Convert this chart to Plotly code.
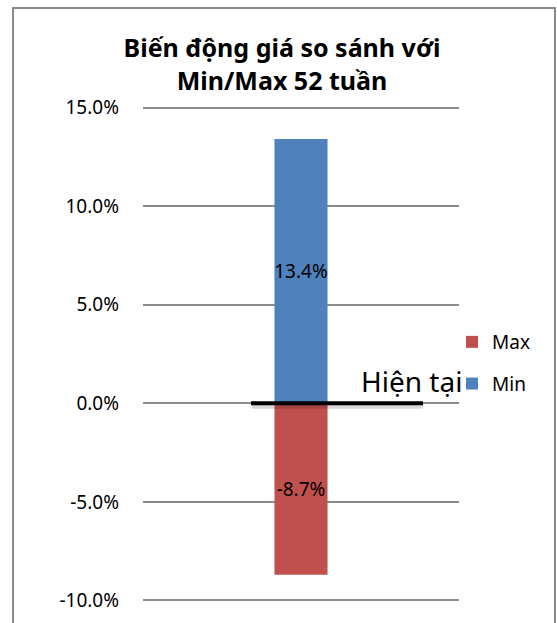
import plotly.graph_objects as go

categories = ["Hiện tại"]
series_names = ["Max", "Min"]
max_values = [-0.087]
min_values = [0.134]
tick_values = [-0.10, -0.05, 0.0, 0.05, 0.10, 0.15]
tick_labels = ["-10.0%", "-5.0%", "0.0%", "5.0%", "10.0%", "15.0%"]
title_text = "<b>Biến động giá so sánh với<br>Min/Max 52 tuần</b>"
marker_label = "Hiện tại"

FONT = "Noto Sans"
W, H = 557, 623
L, R, T, B = 143, 98, 106, 21
PW = W - L - R
PH = H - T - B

def px_to_py(py):
    return (PH - (py - T)) / PH

def px_to_px(px):
    return (px - L) / PW

fig = go.Figure()
fig.add_trace(go.Bar(
    x=categories, y=max_values, name=series_names[0],
    marker=dict(color="#C0504D", line=dict(width=0)),
    width=0.168, texttemplate="%{y:.1%}", textposition="inside",
    insidetextanchor="middle", textangle=0, constraintext="none",
    textfont=dict(family=FONT, size=19, color="#000000"),
    legendgroup="a", hoverinfo="skip",
))
fig.add_trace(go.Bar(
    x=categories, y=min_values, name=series_names[1],
    marker=dict(color="#4F81BD", line=dict(width=0)),
    width=0.168, texttemplate="%{y:.1%}", textposition="inside",
    insidetextanchor="middle", textangle=0, constraintext="none",
    textfont=dict(family=FONT, size=19, color="#000000"),
    legendgroup="b", hoverinfo="skip",
))

# "current" marker line at 0 with a soft shadow
fig.add_shape(type="line", xref="x", yref="y", x0=-0.155, x1=0.386, y0=-0.0012, y1=-0.0012,
              line=dict(color="rgba(0,0,0,0.15)", width=6), layer="above")
fig.add_shape(type="line", xref="x", yref="y", x0=-0.158, x1=0.386, y0=0, y1=0,
              line=dict(color="#000000", width=4), layer="above")
fig.add_annotation(x=0.183, y=0, xref="x", yref="y", text=marker_label,
                   showarrow=False, xanchor="left", yanchor="bottom", yshift=1,
                   font=dict(family=FONT, size=28, color="#000000"))

# outer chart border
fig.add_shape(type="rect", xref="paper", yref="paper",
              x0=px_to_px(13), x1=px_to_px(555),
              y0=px_to_py(H + 20), y1=px_to_py(8),
              line=dict(color="#8a8a8a", width=2), fillcolor="rgba(0,0,0,0)", layer="above")

fig.update_layout(
    width=W, height=H,
    margin=dict(l=L, r=R, t=T, b=B, autoexpand=False),
    paper_bgcolor="white", plot_bgcolor="white",
    barmode="relative",
    title=dict(text=title_text, x=px_to_px(282), xref="paper", xanchor="center",
               y=1 - 57 / H, yanchor="middle",
               font=dict(family=FONT, size=25, color="#000000")),
    showlegend=True,
    legend=dict(x=px_to_px(452), y=px_to_py(323), xanchor="left", yanchor="top",
                traceorder="grouped", tracegroupgap=14,
                font=dict(family=FONT, size=19, color="#000000"),
                bgcolor="rgba(0,0,0,0)", itemclick=False),
    xaxis=dict(range=[-0.5, 0.5], showticklabels=False, showgrid=False, zeroline=False,
               showline=False, ticks=""),
    yaxis=dict(range=[-0.1008, 0.1508], tickvals=tick_values, ticktext=tick_labels,
               showgrid=True, gridcolor="#8c8c8c", gridwidth=1.5,
               zeroline=True, zerolinecolor="#8c8c8c", zerolinewidth=1.5,
               showline=False, ticks="", ticklabelstandoff=23,
               tickfont=dict(family=FONT, size=19, color="#000000")),
)

fig.write_html("out.html", config={"displayModeBar": False},
               post_script="document.body.style.margin='0';document.body.style.overflow='hidden';")
